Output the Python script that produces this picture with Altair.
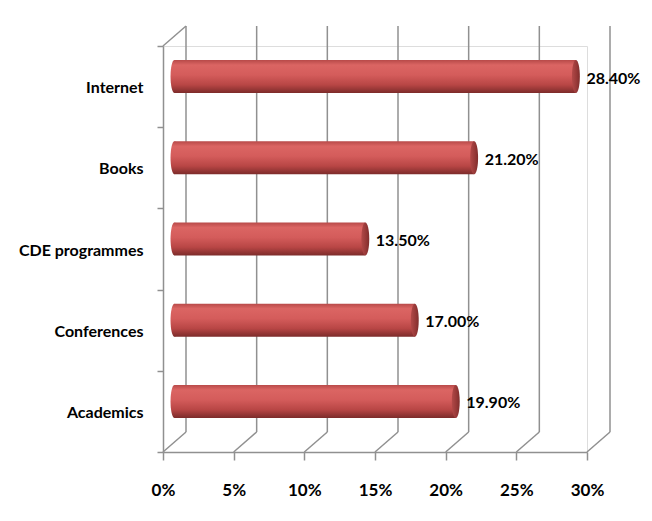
import altair as alt
import pandas as pd

categories = ["Internet", "Books", "CDE programmes", "Conferences", "Academics"]
values = [28.4, 21.2, 13.5, 17.0, 19.9]
tick_values = [0, 5, 10, 15, 20, 25, 30]

bars = pd.DataFrame({"category": categories, "value": values})
ticks = pd.DataFrame({"t": tick_values})

W, H = 424, 406
DX, DY = 23, -20          # depth offset of back wall
BX, BY = 11.5, -10        # cylinder offset (mid depth)
GRID = "#909090"
FONT = "Lato"

xscale = alt.Scale(domain=[0, 30], nice=False, zero=True)
yscale = alt.Scale(domain=categories, paddingInner=0, paddingOuter=0)

body_grad = alt.Gradient(
    gradient="linear", x1=0, x2=0, y1=0, y2=1,
    stops=[
        alt.GradientStop(color="#b84a49", offset=0),
        alt.GradientStop(color="#db6563", offset=0.15),
        alt.GradientStop(color="#d45c5b", offset=0.45),
        alt.GradientStop(color="#b84645", offset=0.75),
        alt.GradientStop(color="#7c2b2a", offset=1),
    ],
)
cap_grad = alt.Gradient(
    gradient="linear", x1=0, x2=1, y1=0, y2=0,
    stops=[
        alt.GradientStop(color="#b24948", offset=0),
        alt.GradientStop(color="#963837", offset=0.6),
        alt.GradientStop(color="#7f2d2c", offset=1),
    ],
)
ellipse = "M0,-1 A0.24,1 0 1,1 0,1 A0.24,1 0 1,1 0,-1 Z"

xaxis = alt.Axis(
    values=tick_values, labelExpr="datum.value + '%'", grid=False,
    domainColor=GRID, domainWidth=1.5, tickColor=GRID, tickWidth=1.5,
    tickSize=8, labelPadding=22, labelFont=FONT, labelFontSize=17,
    labelFontWeight="bold", labelColor="black", title=None,
    labelFlush=False,
)
yaxis = alt.Axis(
    grid=False, domainColor=GRID, domainWidth=1.5, tickColor=GRID,
    tickWidth=1.5, tickSize=6, tickBand="extent", labelPadding=14,
    labelFont=FONT, labelFontSize=16, labelFontWeight="bold",
    labelColor="black", title=None, labelOffset=1,
)

tick_base = alt.Chart(ticks)

back_grid = tick_base.mark_rule(color=GRID, strokeWidth=1.5, xOffset=DX).encode(
    x=alt.X("t:Q", scale=xscale, axis=xaxis),
    y=alt.value(DY),
    y2=alt.value(H + DY),
)
floor_diag = tick_base.mark_rule(color=GRID, strokeWidth=1.5, x2Offset=DX).encode(
    x=alt.X("t:Q", scale=xscale),
    x2="t:Q",
    y=alt.value(H),
    y2=alt.value(H + DY),
)
top_diag = tick_base.transform_filter("datum.t == 0").mark_rule(
    color=GRID, strokeWidth=1.5, x2Offset=DX
).encode(
    x=alt.X("t:Q", scale=xscale),
    x2="t:Q",
    y=alt.value(0),
    y2=alt.value(DY),
)

base = alt.Chart(bars)
y_enc = alt.Y("category:N", scale=yscale, sort=categories, axis=yaxis)

left_cap = base.mark_point(
    shape=ellipse, size=33 * 33, filled=True, fill=body_grad, opacity=1,
    strokeWidth=0, xOffset=BX, yOffset=BY,
).encode(x=alt.datum(0, scale=xscale), y=y_enc)

body = base.mark_bar(
    size=33, fill=body_grad, xOffset=BX, x2Offset=BX, yOffset=BY, y2Offset=BY,
).encode(
    x=alt.X("value:Q", scale=xscale, axis=xaxis),
    x2=alt.datum(0),
    y=y_enc,
)

right_cap = base.mark_point(
    shape=ellipse, size=33 * 33, filled=True, fill=cap_grad, opacity=1,
    strokeWidth=0, xOffset=BX, yOffset=BY,
).encode(x=alt.X("value:Q", scale=xscale), y=y_enc)

labels = base.transform_calculate(
    lab="format(datum.value, '.2f') + '%'"
).mark_text(
    align="left", baseline="middle", dx=22, dy=-8, font=FONT,
    fontSize=16, fontWeight="bold", color="black",
).encode(x=alt.X("value:Q", scale=xscale), y=y_enc, text="lab:N")

chart = alt.layer(
    back_grid, floor_diag, top_diag, left_cap, body, right_cap, labels
).properties(
    width=W, height=H,
    autosize=alt.AutoSizeParams(type="none"),
    padding={"left": 155, "top": 38, "right": 57, "bottom": 61},
).configure_view(stroke=None).configure(background="white")

chart.save("out.html", embed_options={"renderer": "svg", "actions": False})
